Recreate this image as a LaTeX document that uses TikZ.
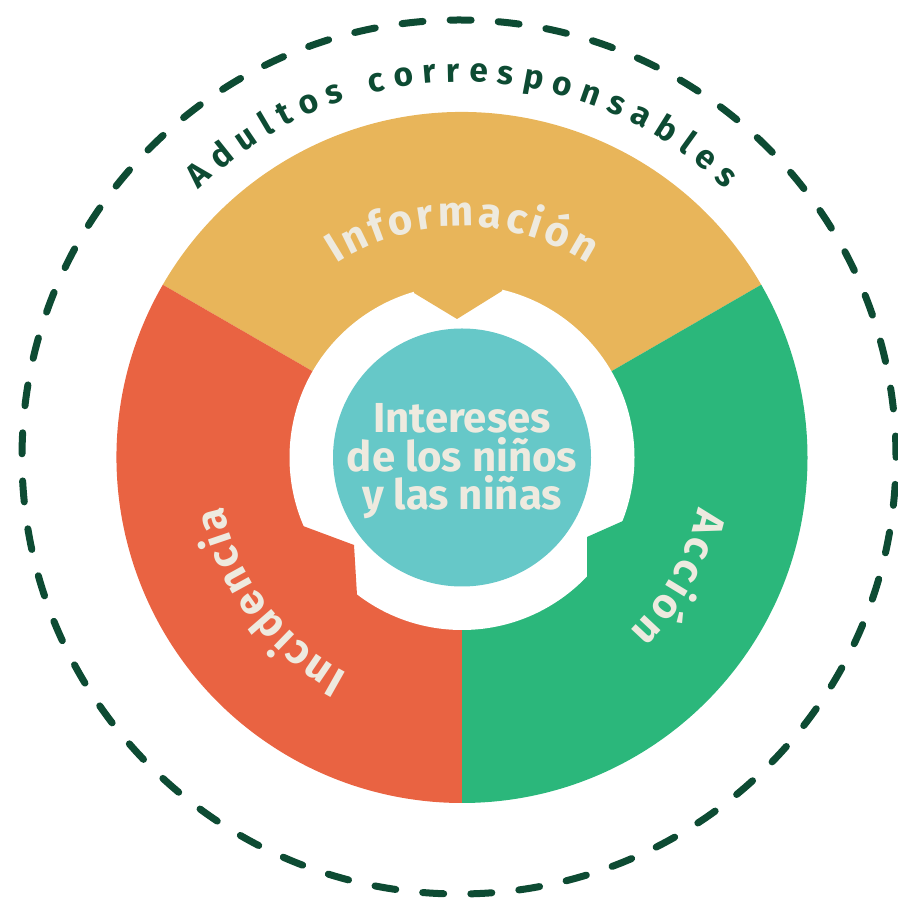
\documentclass[tikz,border=0pt]{standalone}
\usepackage{fontspec}
\setmainfont{Fira Sans}
\usetikzlibrary{decorations.text}
\definecolor{cyel}{HTML}{E8B55A}
\definecolor{cred}{HTML}{E96342}
\definecolor{cgrn}{HTML}{2BB77B}
\definecolor{cteal}{HTML}{66C8C8}
\definecolor{cdark}{HTML}{0D4B33}
\definecolor{ccream}{HTML}{EEEADF}
\newcommand\lblfont{\bfseries\fontsize{35.8}{32}\selectfont}
\newcommand\advfont{\bfseries\fontsize{28.5}{30}\selectfont}
\begin{document}
\begin{tikzpicture}[x=0.03cm,y=0.03cm,
  ctext/.style={text=ccream, font=\lblfont, anchor=base, inner sep=0pt},
  dashring/.style={draw=cdark, line width=0.21cm, line cap=round, dash pattern=on 0.63cm off 0.81513cm},
  arctext/.style={decorate, decoration={text along path, text align=fit to path, text color=#1}},
]
\useasboundingbox (0,0) rectangle (897,900);
\coordinate (C) at (462,442.5);
\coordinate (D) at (459,443);
% outer dashed ring
\draw[dashring] (D) ++(0:437) arc[start angle=0, end angle=360, radius=437];
% segments
\fill[cyel] (C) -- ++(30:345.5) arc[start angle=30, end angle=150, radius=345.5] -- cycle;
\fill[cred] (C) -- ++(150:345.5) arc[start angle=150, end angle=270, radius=345.5] -- cycle;
\fill[cgrn] (C) -- ++(270:345.5) arc[start angle=270, end angle=390, radius=345.5] -- cycle;
% inner hole
\fill[white] (C) circle[radius=172.5];
% teeth
\fill[cyel] (414,607) -- (457,581) -- (502,609) -- (502,628) -- (414,628) -- cycle;
\fill[cred] (303,374) -- (354,355) -- (357,305) -- (340,280) -- (280,375) -- cycle;
\fill[cgrn] (623,379) -- (587,363) -- (587,322) -- (600,300) -- (645,380) -- cycle;
% center
\fill[cteal] (C) circle[radius=129];
\node[ctext] (t1) at (462,467) {Intereses};
\node[ctext] (t2) at (462,428) {de los niños};
\node[ctext] (t3) at (462,390) {y las niñas};
% curved texts
\path[arctext=cdark, decoration={text={|\advfont|Adultos corresponsables}}]
  (C) ++(134.5:375.5) arc[start angle=134.5, end angle=45.5, radius=375.5];
\path[arctext=ccream, decoration={text={|\lblfont|Información}}]
  (C) ++(123:231) arc[start angle=123, end angle=57, radius=231];
\path[arctext=ccream, decoration={text={|\lblfont|Acción}}]
  (C) ++(-12:241) arc[start angle=-12, end angle=-46, radius=241];
\path[arctext=ccream, decoration={text={|\lblfont|Incidencia}}]
  (C) ++(242:244) arc[start angle=242, end angle=191.5, radius=244];
\end{tikzpicture}
\end{document}
